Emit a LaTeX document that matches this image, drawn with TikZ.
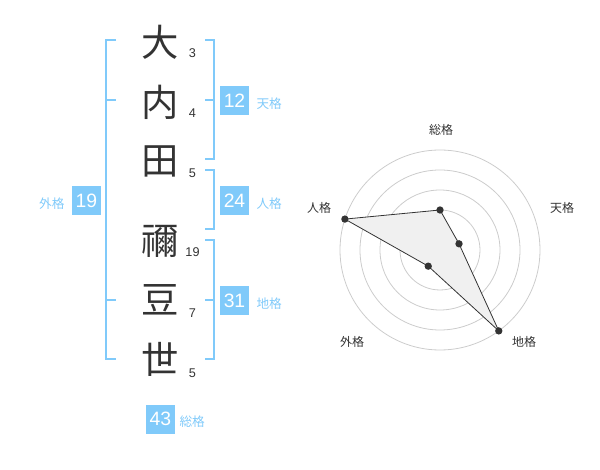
\documentclass[tikz,border=0pt]{standalone}
\usepackage{fontspec}
\setmainfont{Liberation Sans}
\newfontfamily\jpfont{Noto Sans CJK JP}
\usetikzlibrary{calc}
\definecolor{kaku}{RGB}{128,202,250}
\definecolor{ink}{RGB}{51,51,51}
\tikzstyle{kanji}=[font=\jpfont\fontsize{28}{28}\selectfont,text=ink,inner sep=0pt]
\tikzstyle{strokes}=[font=\fontsize{9.5}{10}\selectfont,text=ink,inner sep=0pt]
\tikzstyle{scorebox}=[fill=kaku,text=white,minimum size=21.75pt,inner sep=0pt,font=\fontsize{14.5}{15}\selectfont]
\tikzstyle{kakulabel}=[font=\jpfont\fontsize{9.5}{10}\selectfont,text=kaku,inner sep=0pt]
\tikzstyle{bracket}=[draw=kaku,line width=1.5pt]
\tikzstyle{ring}=[draw=black!20,line width=0.6pt]
\tikzstyle{score}=[circle,fill=ink,minimum size=5.5pt,inner sep=0pt]
\tikzstyle{axislabel}=[font=\jpfont\fontsize{9}{10}\selectfont,text=ink,inner sep=0pt]

\begin{document}
\begin{tikzpicture}[x=0.75pt,y=-0.75pt]
    \useasboundingbox (0,0) rectangle (600,470);

    % name and stroke counts
    \foreach \y/\c/\n/\name in {42/大/3/1, 102/内/4/2, 161/田/5/3, 241/禰/19/4, 300/豆/7/5, 359/世/5/6}
        \node[kanji] (c\name) at (160,\y) {\c};
    \foreach \y/\n/\name in {53/3/1, 113/4/2, 173/5/3, 252/19/4, 313/7/5, 373/5/6}
        \node[strokes] (n\name) at (192.5,\y) {\n};

    % brackets
    \draw[bracket] (116,40) -- (106,40) -- (106,359) -- (116,359);
    \draw[bracket] (106,100) -- (116,100) (106,300) -- (116,300);
    \draw[bracket] (205,40) -- (214,40) -- (214,159) -- (205,159) (205,100) -- (214,100);
    \draw[bracket] (205,170) -- (214,170) -- (214,229) -- (205,229);
    \draw[bracket] (205,240) -- (214,240) -- (214,359) -- (205,359) (205,300) -- (214,300);

    % scores
    \foreach \x/\y/\v/\name in {234.5/100.5/12/ten, 234.5/200.5/24/jin, 234.5/300.5/31/chi, 86.5/200.5/19/gai, 160.5/419/43/sou}
        \node[scorebox] (b\name) at (\x,\y) {\v};
    \node[kakulabel,anchor=west] at ($(bten.east)+(7,3)$) {天格};
    \node[kakulabel,anchor=west] at ($(bjin.east)+(7,3)$) {人格};
    \node[kakulabel,anchor=west] at ($(bchi.east)+(7,3)$) {地格};
    \node[kakulabel,anchor=east] at ($(bgai.west)+(-7,3)$) {外格};
    \node[kakulabel,anchor=west] at ($(bsou.east)+(4,3)$) {総格};

    % radar chart
    \coordinate (c) at (440,250);
    \foreach \r in {20,40,...,100}
        \draw[ring] (c) circle[radius=\r];
    \fill[black!20] (c) circle[radius=3.5];
    \foreach \a/\r/\name in {270/40/sou, -18/20/ten, 54/100/chi, 126/20/gai, 198/100/jin}
        \coordinate (p\name) at ($(c)+(\a:\r)$);
    \draw[ink,line width=0.6pt,fill=black!6] (psou) -- (pten) -- (pchi) -- (pgai) -- (pjin) -- cycle;
    \foreach \name in {sou,ten,chi,gai,jin}
        \node[score] (s\name) at (p\name) {};

    \node[axislabel] (lsou) at (441,130) {総格};
    \node[axislabel] (lten) at (562,208) {天格};
    \node[axislabel] (lchi) at (524,342) {地格};
    \node[axislabel] (lgai) at (352,342) {外格};
    \node[axislabel] (ljin) at (319,208) {人格};
\end{tikzpicture}
\end{document}
